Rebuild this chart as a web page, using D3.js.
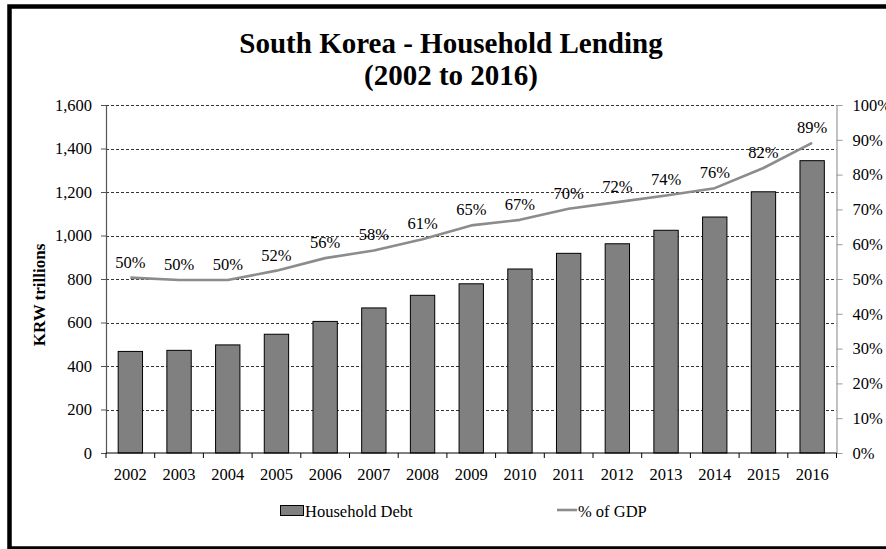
<!DOCTYPE html>
<html>
<head>
<meta charset="utf-8">
<script src="https://cdn.jsdelivr.net/npm/d3@7"></script>
<style>
  html, body { margin: 0; padding: 0; background: #fff; }
  svg { display: block; }
  svg text { font-family: "Liberation Serif", "Times New Roman", Times, Tinos, "DejaVu Serif", serif; }
</style>
</head>
<body>
<svg id="chart" width="886" height="549"></svg>
<script>
// Household lending by year (KRW trillions) and its ratio to GDP (%)
const years = ["2002", "2003", "2004", "2005", "2006", "2007", "2008", "2009",
               "2010", "2011", "2012", "2013", "2014", "2015", "2016"];
const householdDebt = [467, 472, 497, 546, 605, 667, 725, 778, 846, 918, 962, 1024, 1085, 1201, 1344];
const debtToGdp = [50.4, 49.7, 49.7, 52.4, 56.0, 58.2, 61.4, 65.4, 67.0, 70.2, 72.1, 74.0, 76.1, 81.9, 89.1];
const leftTicks = [0, 200, 400, 600, 800, 1000, 1200, 1400, 1600];
const rightTicks = [0, 10, 20, 30, 40, 50, 60, 70, 80, 90, 100];
const titleLines = ["South Korea - Household Lending", "(2002 to 2016)"];
const yAxisTitle = "KRW trillions";
const legendItems = ["Household Debt", "% of GDP"];

const serif = "'Liberation Serif', 'Times New Roman', Times, Tinos, 'DejaVu Serif', serif";
const svg = d3.select("#chart");
const plot = { left: 106, right: 836.5, top: 105, bottom: 453 };

const x = d3.scaleBand(years, [plot.left, plot.right]).paddingInner(0.5).paddingOuter(0.25);
const yL = d3.scaleLinear([0, 1600], [plot.bottom, plot.top]);
const yR = d3.scaleLinear([0, 100], [plot.bottom, plot.top]);
const step = x.step();
const cx = d => x(d) + x.bandwidth() / 2;

// outer frame
svg.append("rect")
  .attr("x", 9.5).attr("y", 6.5)
  .attr("width", 900).attr("height", 542)
  .attr("fill", "none").attr("stroke", "#000").attr("stroke-width", 4.5);

// title
svg.append("g").selectAll("text").data(titleLines).join("text")
  .attr("x", 451).attr("y", (d, i) => 53 + i * 32)
  .attr("text-anchor", "middle")
  .attr("font-size", 29).attr("font-weight", "bold")
  .text(d => d);

// dashed gridlines
svg.append("g").selectAll("line").data(leftTicks.filter(d => d > 0)).join("line")
  .attr("x1", plot.left).attr("x2", plot.right)
  .attr("y1", d => Math.round(yL(d)) + 0.5).attr("y2", d => Math.round(yL(d)) + 0.5)
  .attr("stroke", "#000").attr("stroke-width", 0.8).attr("stroke-dasharray", "3,2");

// bars
svg.append("g").selectAll("rect").data(years).join("rect")
  .attr("x", d => x(d))
  .attr("y", (d, i) => yL(householdDebt[i]))
  .attr("width", x.bandwidth())
  .attr("height", (d, i) => plot.bottom - yL(householdDebt[i]))
  .attr("fill", "#808080").attr("stroke", "#000").attr("stroke-width", 1);

// left axis
const gL = svg.append("g").attr("transform", `translate(${plot.left},0)`)
  .call(d3.axisLeft(yL).tickValues(leftTicks).tickFormat(d3.format(","))
    .tickSize(5).tickSizeOuter(0).tickPadding(9));
gL.select(".domain").attr("stroke", "#555").attr("stroke-width", 1.2);
gL.selectAll(".tick line").attr("stroke", "#555");
gL.selectAll("text").attr("font-size", 16.5).attr("fill", "#000");

// right axis
const gR = svg.append("g").attr("transform", `translate(${plot.right},0)`)
  .call(d3.axisRight(yR).tickValues(rightTicks).tickFormat(d => d + "%")
    .tickSize(6).tickSizeOuter(0).tickPadding(10));
gR.select(".domain").attr("stroke", "#999").attr("stroke-width", 1.2);
gR.selectAll(".tick line").attr("stroke", "#999");
gR.selectAll("text").attr("font-size", 16.5).attr("fill", "#000");

// x axis: baseline, boundary ticks and year labels
const gX = svg.append("g");
gX.append("line")
  .attr("x1", plot.left).attr("x2", plot.right)
  .attr("y1", plot.bottom).attr("y2", plot.bottom)
  .attr("stroke", "#000").attr("stroke-width", 1);
const bounds = years.map(d => cx(d) - step / 2).concat([cx(years[years.length - 1]) + step / 2]);
gX.selectAll("line.tk").data(bounds).join("line").attr("class", "tk")
  .attr("x1", d => d).attr("x2", d => d)
  .attr("y1", plot.bottom).attr("y2", plot.bottom + 5)
  .attr("stroke", "#000").attr("stroke-width", 1);
gX.selectAll("text").data(years).join("text")
  .attr("x", d => cx(d)).attr("y", 479.5)
  .attr("text-anchor", "middle").attr("font-size", 16.5)
  .text(d => d);

// ratio-to-GDP line with value labels
svg.append("path")
  .datum(debtToGdp)
  .attr("fill", "none").attr("stroke", "#8c8c8c").attr("stroke-width", 2.6)
  .attr("stroke-linejoin", "round")
  .attr("d", d3.line().x((d, i) => cx(years[i])).y(d => yR(d)));
svg.append("g").selectAll("text").data(debtToGdp).join("text")
  .attr("x", (d, i) => cx(years[i])).attr("y", d => yR(d) - 10)
  .attr("text-anchor", "middle").attr("font-size", 16.5)
  .text(d => Math.round(d) + "%");

// y axis title
svg.append("text")
  .attr("transform", "translate(45,295) rotate(-90)")
  .attr("text-anchor", "middle").attr("font-size", 17).attr("font-weight", "bold")
  .text(yAxisTitle);

// legend
const lg = svg.append("g");
lg.append("rect").attr("x", 280.5).attr("y", 505.5).attr("width", 23).attr("height", 10)
  .attr("fill", "#808080").attr("stroke", "#000").attr("stroke-width", 1);
lg.append("text").attr("x", 305).attr("y", 517).attr("font-size", 16.5).text(legendItems[0]);
lg.append("line").attr("x1", 557).attr("x2", 577).attr("y1", 510).attr("y2", 510)
  .attr("stroke", "#8c8c8c").attr("stroke-width", 2.6);
lg.append("text").attr("x", 578).attr("y", 517).attr("font-size", 16.5).text(legendItems[1]);

// every label in the serif face
svg.selectAll("text").attr("font-family", serif);
</script>
</body>
</html>
